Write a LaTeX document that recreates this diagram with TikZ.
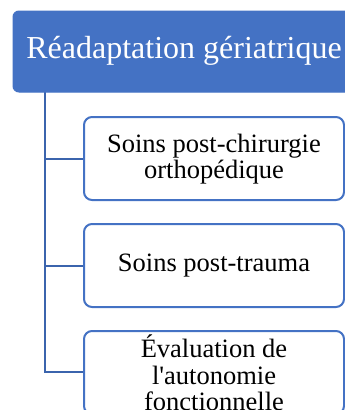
\documentclass[tikz,border=0pt]{standalone}
\usepackage{fontspec}
\setmainfont{Liberation Serif}
\definecolor{boxblue}{HTML}{4472C4}
\definecolor{linkblue}{HTML}{3B64AD}
\begin{document}
\begin{tikzpicture}[x=1pt,y=-1pt,
  rootbox/.style={draw=boxblue, fill=boxblue, rounded corners=6pt, line width=1pt},
  childbox/.style={draw=boxblue, fill=white, rounded corners=8pt, line width=2pt},
  link/.style={draw=linkblue, line width=2pt},
  roottext/.style={text=white, font=\fontsize{32}{36}\selectfont, inner sep=0pt},
  childtext/.style={text=black, font=\fontsize{26.5}{26.5}\selectfont, align=center, inner sep=0pt}]
\useasboundingbox (0,0) rectangle (345,410);
\clip (0,0) rectangle (345,410);
% tree connector
\coordinate (top) at (45,92);
\coordinate (b1) at (45,159);
\coordinate (b2) at (45,266);
\coordinate (b3) at (45,372);
\draw[link] (top) -- (b3) -- (84,372);
\draw[link] (b1) -- (84,159);
\draw[link] (b2) -- (84,266);
% root
\draw[rootbox] (13,11) rectangle (360,92);
\node[roottext] (root) at (184,51) {Réadaptation gériatrique};
% children
\draw[childbox] (84,117) rectangle (344,200);
\node[childtext] (c1) at (214,159) {Soins post-chirurgie\\orthopédique};
\draw[childbox] (84,224) rectangle (344,307);
\node[childtext] (c2) at (214,266) {Soins post-trauma};
\draw[childbox] (84,331) rectangle (344,414);
\node[childtext] (c3) at (214,373) {Évaluation de\\l\textquotesingle autonomie\\fonctionnelle};
\end{tikzpicture}
\end{document}
